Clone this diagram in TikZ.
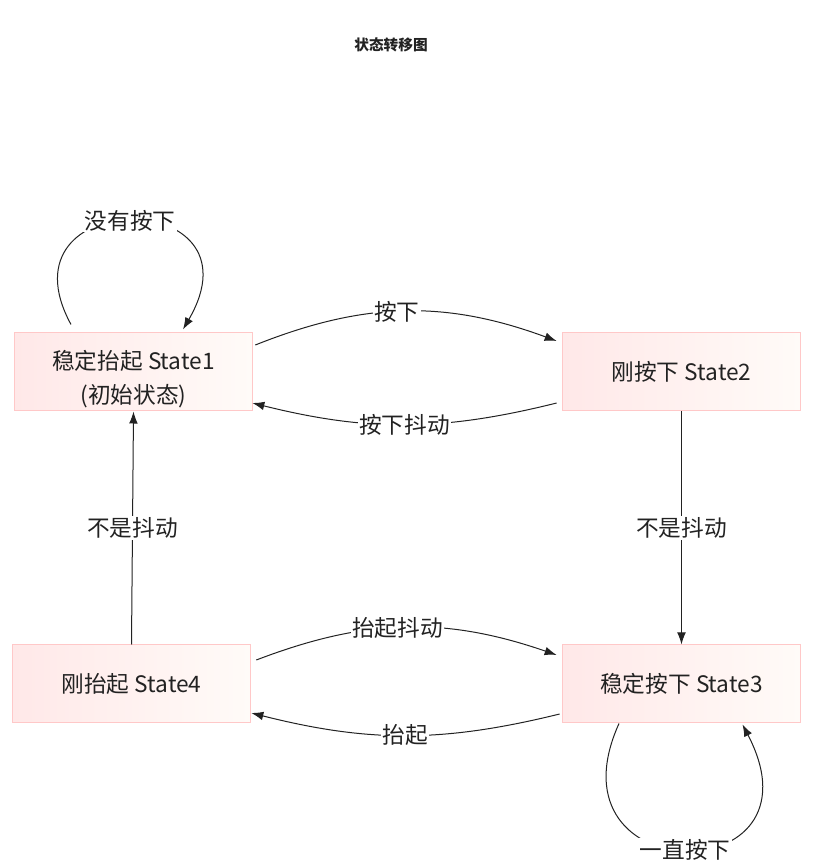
\documentclass[tikz,border=0pt]{standalone}
\usepackage{fontspec}
\setmainfont{Noto Sans CJK SC}
\usepackage{tikz}
\usetikzlibrary{arrows.meta,calc}

\definecolor{boxline}{RGB}{255,200,200}
\definecolor{boxleft}{RGB}{255,232,232}
\definecolor{boxright}{RGB}{255,251,248}
\definecolor{ink}{RGB}{34,34,34}

\tikzset{
  state/.style={rectangle, draw=boxline, line width=0.75pt, left color=boxleft, right color=boxright,
    minimum width=179pt, minimum height=58.5pt, inner sep=0pt, align=center},
  flow/.style={draw=ink, line width=0.75pt, -{Latex[length=9pt,width=6.5pt]}},
  lbl/.style={fill=white, inner sep=1pt}
}

\begin{document}
\begin{tikzpicture}[x=0.75pt, y=0.75pt, font=\fontsize{17}{26}\selectfont, text=ink]
\useasboundingbox (0,0) rectangle (814,865);

\node[font=\fontsize{11}{13}\selectfont\bfseries] (title) at (391,820) {状态转移图};

\node[state, text height=51pt] (s1) at (133.5,493) {稳定抬起 State1\\(初始状态)};
\node[state] (s2) at (681.5,493) {刚按下 State2};
\node[state] (s3) at (681.5,181) {稳定按下 State3};
\node[state] (s4) at (131.5,181) {刚抬起 State4};

\draw[flow] ($(s1.east)+(2,27)$) to[bend left=21] node[lbl, pos=0.47] {按下} ($(s2.west)+(-5,31)$);
\draw[flow] ($(s2.west)+(-5,-31)$) to[bend left=14] node[lbl] {按下抖动} ($(s1.east)+(-1,-31)$);
\draw[flow] (s2.south) -- node[lbl] {不是抖动} (s3.north);
\draw[flow] (s4.north) -- node[lbl] {不是抖动} (s1.south);
\draw[flow] ($(s4.east)+(5,24)$) to[bend left=20] node[lbl, pos=0.47] {抬起抖动} ($(s3.west)+(-5,29)$);
\draw[flow] ($(s3.west)+(-2,-30)$) to[bend left=14] node[lbl] {抬起} ($(s4.east)+(0,-29)$);

\draw[flow] ($(s1.north)+(-62.5,8)$) .. controls (-5,680) and (267,680) .. node[lbl] {没有按下} ($(s1.north)+(49.5,3)$);
\draw[flow] ($(s3.south)+(-62.5,0)$) .. controls (543,-27) and (830,-27) .. node[lbl] {一直按下} ($(s3.south)+(61,-1)$);

\end{tikzpicture}
\end{document}
